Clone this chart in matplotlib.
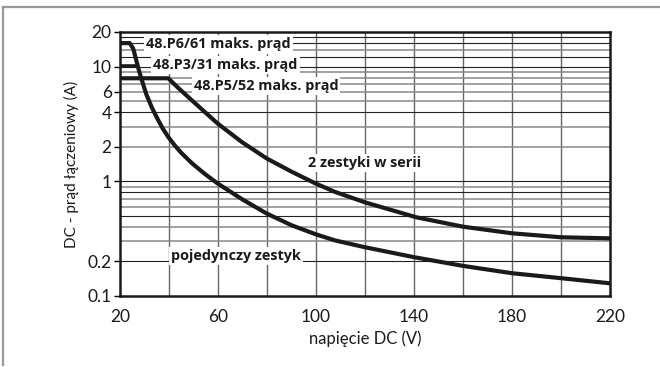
import matplotlib
matplotlib.use("Agg")
import matplotlib.pyplot as plt
from matplotlib.lines import Line2D

# ---- data ----
single_v = [20, 24, 25.4, 26.8, 27.7, 28.6, 30.7, 32.9, 35, 37.3, 39.7, 42.3, 45, 49.3, 54.6, 59.9,
            69.7, 79.9, 90.1, 99.9, 107.8, 120, 140, 160, 180, 200, 220]
single_i = [16, 16, 14.3, 11.0, 9.3, 8.0, 5.76, 4.44, 3.6, 2.92, 2.43, 2.06, 1.77, 1.44, 1.16, 0.955,
            0.70, 0.523, 0.413, 0.345, 0.305, 0.266, 0.218, 0.183, 0.158, 0.143, 0.129]

series_v = [20, 39.7, 43.8, 49.3, 59.9, 69.7, 79.9, 90.1, 99.9, 107.8, 120, 141, 160, 180, 200, 220]
series_i = [7.9, 7.9, 6.5, 5.08, 3.18, 2.2, 1.58, 1.21, 0.955, 0.807, 0.655, 0.485, 0.402, 0.352, 0.325, 0.318]

p3_v = [20, 26.8]
p3_i = [10.2, 10.2]

x_ticks = [20, 60, 100, 140, 180, 220]
y_ticks = [0.1, 0.2, 1, 2, 4, 6, 10, 20]
y_ticklabels = ["0.1", "0.2", "1", "2", "4", "6", "10", "20"]

labels = ["48.P6/61 maks. prąd", "48.P3/31 maks. prąd", "48.P5/52 maks. prąd",
          "2 zestyki w serii", "pojedynczy zestyk"]
label_pos = [(60.3, 15.6), (63.0, 10.27), (79.6, 6.77), (120.0, 1.44), (67.3, 0.222)]

grid_dark = [0.2, 0.5, 0.8, 1, 4, 10, 12, 16, 18]
grid_gray = [0.3, 0.4, 0.6, 0.7, 0.9, 2, 3, 5, 6, 7, 8, 9, 14]
grid_v = [40, 60, 80, 100, 120, 140, 160, 180, 200]

# ---- figure ----
fig = plt.figure(figsize=(6.6, 3.67), dpi=100)
ax = fig.add_axes([120/660, 1-296/367, 490/660, 264/367])
ax.set_yscale("log")
ax.set_xlim(20, 220)
ax.set_ylim(0.1, 20)

for v in grid_v:
    ax.axvline(v, color="#666666", lw=1.0, zorder=1)
for g in grid_dark:
    ax.axhline(g, color="#222222", lw=0.8, zorder=1)
for g in grid_gray:
    ax.axhline(g, color="#888888", lw=1.1, zorder=1)

ax.plot(single_v, single_i, color="#1a1a1a", lw=3.0, solid_joinstyle="round", zorder=5)
ax.plot(series_v, series_i, color="#1a1a1a", lw=3.0, solid_joinstyle="round", zorder=5)
ax.plot(p3_v, p3_i, color="#1a1a1a", lw=2.6, solid_capstyle="butt", zorder=5)

for txt, (x, y) in zip(labels, label_pos):
    ax.text(x, y, txt, ha="center", va="center", fontsize=10.4, fontweight="bold",
            family=["Open Sans", "DejaVu Sans"], color="#1a1a1a", zorder=4,
            bbox=dict(boxstyle="square,pad=0.15", fc="white", ec="none"))

ax.set_xticks(x_ticks)
ax.set_xticklabels([str(t) for t in x_ticks])
ax.set_yticks(y_ticks)
ax.set_yticklabels(y_ticklabels)
ax.minorticks_off()
ax.tick_params(axis="x", length=0, pad=9, labelsize=12.5, labelcolor="#1a1a1a")
ax.tick_params(axis="y", length=4, width=1.0, pad=2, labelsize=12.5, labelcolor="#1a1a1a")
for lab in ax.get_xticklabels() + ax.get_yticklabels():
    lab.set_family(["Lato", "DejaVu Sans"])
    lab.set_fontweight("normal")

for s in ax.spines.values():
    s.set_linewidth(1.8)
    s.set_color("#1a1a1a")
    s.set_zorder(6)

ax.set_xlabel("napięcie DC (V)", fontsize=12, family=["Lato", "DejaVu Sans"],
              fontweight="normal", color="#1a1a1a", labelpad=4)
ax.set_ylabel("DC - prąd łączeniowy (A)", fontsize=11, family=["Lato", "DejaVu Sans"],
              fontweight="normal", color="#1a1a1a", labelpad=6)

# outer frame
fig.add_artist(Line2D([3/660, 1], [1-7/367, 1-7/367], color="#999999", lw=1.6, transform=fig.transFigure))
fig.add_artist(Line2D([3/660, 3/660], [1-7/367, 1-365/367], color="#999999", lw=1.6, transform=fig.transFigure))

fig.savefig("out.png", dpi=100)
